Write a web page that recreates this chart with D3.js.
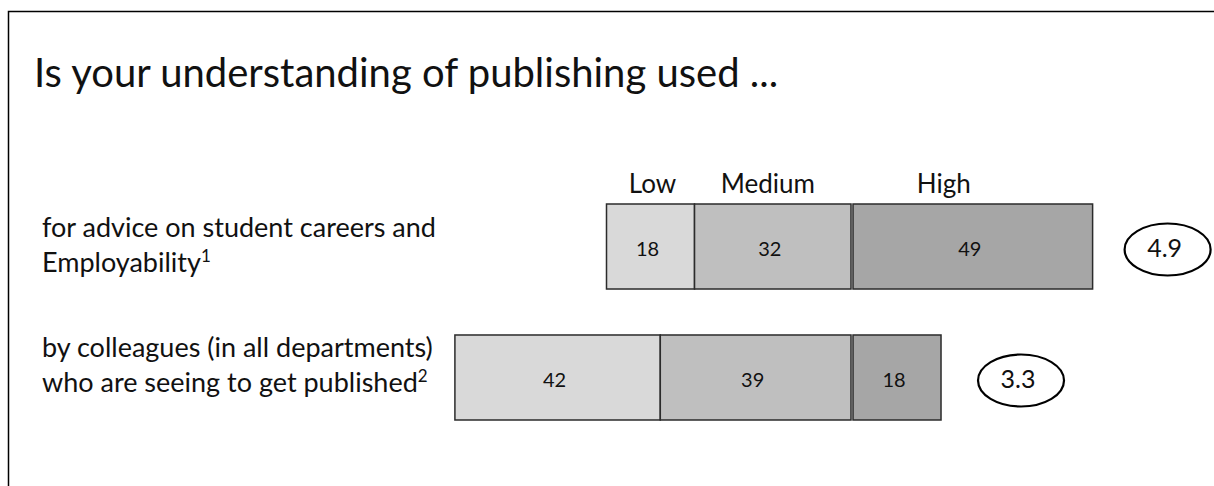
<!DOCTYPE html>
<html>
<head>
<meta charset="utf-8">
<script src="https://cdn.jsdelivr.net/npm/d3@7"></script>
<style>
  html, body { margin: 0; padding: 0; background: #fff; }
  svg text { font-family: Lato, "Open Sans", sans-serif; fill: #111; }
</style>
</head>
<body>
<div id="chart"></div>
<script>
const categories = ["Low", "Medium", "High"];
const rowLabels = [
  ["for advice on student careers and", "Employability", "1"],
  ["by colleagues (in all departments)", "who are seeing to get published", "2"]
];
const lowValues = [18, 42];
const mediumValues = [32, 39];
const highValues = [49, 18];
const meanScores = ["4.9", "3.3"];
const title = "Is your understanding of publishing used ...";

const width = 1214, height = 486;
const colors = {Low: "#d9d9d9", Medium: "#bfbfbf", High: "#a6a6a6"};

const svg = d3.select("#chart").append("svg")
    .attr("width", width)
    .attr("height", height);

// frame (only top and left edges show)
svg.append("path")
    .attr("d", "M8.5," + height + "V11.5H" + width)
    .attr("fill", "none")
    .attr("stroke", "#000")
    .attr("stroke-width", 1.5);

svg.append("text")
    .attr("x", 34)
    .attr("y", 87)
    .style("font-size", "40px")
    .text(title);

// x: percent -> pixels, centre line between Medium and High
const centre = 851;
const x = d3.scaleLinear().domain([0, 100]).range([0, 489]);
const y = d3.scaleBand()
    .domain(d3.range(rowLabels.length))
    .range([204, 420])
    .paddingInner(0.351)
    .paddingOuter(0);

const rows = rowLabels.map((r, i) => {
  const low = lowValues[i], med = mediumValues[i], high = highValues[i];
  const start = centre - x(low + med);
  return {
    i: i,
    segs: [
      {cat: "Low", v: low, x0: start, x1: start + x(low)},
      {cat: "Medium", v: med, x0: start + x(low), x1: centre},
      {cat: "High", v: high, x0: centre + 2, x1: centre + 2 + x(high)}
    ]
  };
});

const rowG = svg.selectAll("g.row")
    .data(rows)
    .join("g")
    .attr("class", "row")
    .attr("transform", d => "translate(0," + y(d.i) + ")");

rowG.selectAll("rect")
    .data(d => d.segs)
    .join("rect")
    .attr("x", d => d.x0)
    .attr("y", 0)
    .attr("width", d => d.x1 - d.x0)
    .attr("height", y.bandwidth())
    .attr("fill", d => colors[d.cat])
    .attr("stroke", "#2b2b2b")
    .attr("stroke-width", 1.5);

rowG.selectAll("text.val")
    .data(d => d.segs)
    .join("text")
    .attr("class", "val")
    .attr("x", d => (d.x0 + d.x1) / 2 - 3)
    .attr("y", 52)
    .attr("text-anchor", "middle")
    .style("font-size", "20px")
    .text(d => d.v);

// row labels
const labelTop = [33, 22];
rowG.each(function(d) {
  const g = d3.select(this);
  const lab = rowLabels[d.i];
  g.append("text")
      .attr("x", 42)
      .attr("y", labelTop[d.i])
      .style("font-size", "27px")
      .text(lab[0]);
  const t2 = g.append("text")
      .attr("x", 42)
      .attr("y", labelTop[d.i] + 35)
      .style("font-size", "27px");
  t2.append("tspan").text(lab[1]);
  t2.append("tspan")
      .attr("dy", -10)
      .style("font-size", "17px")
      .text(lab[2]);
});

// mean score ellipses
rowG.each(function(d) {
  const g = d3.select(this);
  const end = d.segs[2].x1;
  const cx = end + 32 + 43 + d.i * 5;
  g.append("ellipse")
      .attr("cx", cx)
      .attr("cy", y.bandwidth() / 2 + 3)
      .attr("rx", 43)
      .attr("ry", 26)
      .attr("fill", "none")
      .attr("stroke", "#000")
      .attr("stroke-width", 2.2);
  g.append("text")
      .attr("x", cx - 3)
      .attr("y", 53)
      .attr("text-anchor", "middle")
      .style("font-size", "25px")
      .text(meanScores[d.i]);
});

// category headers above first row
const headerShift = {Low: 2, Medium: -5, High: -29};
svg.selectAll("text.cat")
    .data(rows[0].segs)
    .join("text")
    .attr("class", "cat")
    .attr("x", d => (d.x0 + d.x1) / 2 + headerShift[d.cat])
    .attr("y", 193)
    .attr("text-anchor", "middle")
    .style("font-size", "26px")
    .text(d => d.cat);
</script>
</body>
</html>
